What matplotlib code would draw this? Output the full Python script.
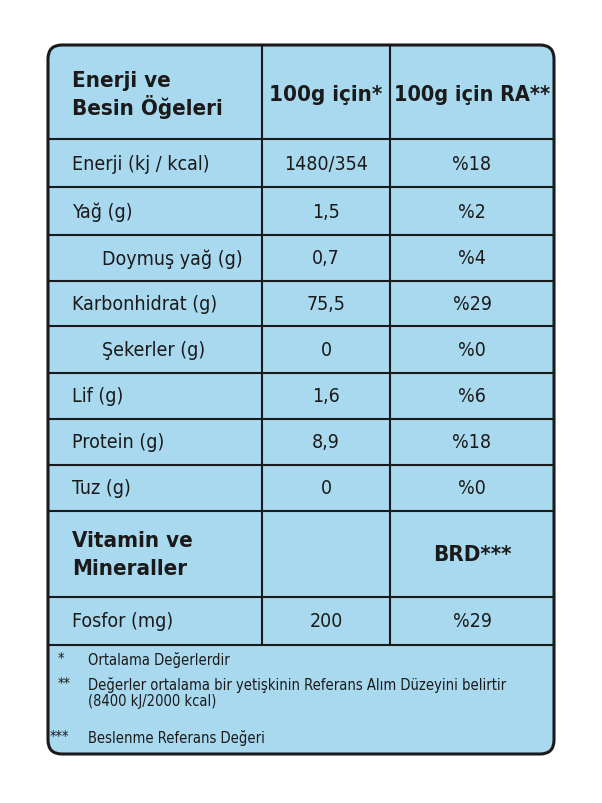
import matplotlib
matplotlib.use('Agg')
import matplotlib.pyplot as plt
from matplotlib.patches import FancyBboxPatch

# table content
rowLabels = ["Enerji (kj / kcal)", "Yağ (g)", "Doymuş yağ (g)", "Karbonhidrat (g)",
             "Şekerler (g)", "Lif (g)", "Protein (g)", "Tuz (g)"]
indented = [False, False, True, False, True, False, False, False]
per100 = ["1480/354", "1,5", "0,7", "75,5", "0", "1,6", "8,9", "0"]
raValues = ["%18", "%2", "%4", "%29", "%0", "%6", "%18", "%0"]
headers = ["Enerji ve\nBesin Öğeleri", "100g için*", "100g için RA**"]
mineralHeader = ["Vitamin ve\nMineraller", "", "BRD***"]
mineralLabels = ["Fosfor (mg)"]
mineralPer100 = ["200"]
mineralRa = ["%29"]
footMarks = ["*", "**", "***"]
footTexts = ["Ortalama Değerlerdir",
             "Değerler ortalama bir yetişkinin Referans Alım Düzeyini belirtir\n(8400 kJ/2000 kcal)",
             "Beslenme Referans Değeri"]

fig = plt.figure(figsize=(6.02, 8.04), dpi=100)
ax = fig.add_axes([0, 0, 1, 1])
ax.set_xlim(0, 602)
ax.set_ylim(804, 0)
ax.axis('off')

blue = '#a9d9ef'
ax.add_patch(FancyBboxPatch((48, 46), 506, 709, boxstyle="round,pad=0,rounding_size=14",
                            fc=blue, ec='#1a1a1a', lw=2.2))

font = dict(family='DejaVu Sans', fontstretch='condensed', color='#1a1a1a')
left, c1, c2, right = 48, 262, 390, 554
mid1, mid2 = (c1 + c2) / 2, (c2 + right) / 2

rowEdges = [140, 188, 236, 282, 327, 374, 420, 466, 512, 598, 646]
for y in rowEdges:
    ax.plot([left, right], [y, y], color='#1a1a1a', lw=1.5)
for x in (c1, c2):
    ax.plot([x, x], [46, 646], color='#1a1a1a', lw=1.5)

# header
ax.text(72, 95, headers[0], fontsize=16, fontweight='bold', va='center', linespacing=1.2, **font)
ax.text(mid1, 95, headers[1], fontsize=16, fontweight='bold', va='center', ha='center', **font)
ax.text(mid2, 95, headers[2], fontsize=15.5, fontweight='bold', va='center', ha='center', **font)

for i, (lab, ind, a, b) in enumerate(zip(rowLabels, indented, per100, raValues)):
    yc = (rowEdges[i] + rowEdges[i + 1]) / 2
    ax.text(102 if ind else 72, yc, lab, fontsize=14, va='center', **font)
    ax.text(mid1, yc, a, fontsize=14, va='center', ha='center', **font)
    ax.text(mid2, yc, b, fontsize=14, va='center', ha='center', **font)

yc = (rowEdges[8] + rowEdges[9]) / 2
ax.text(72, yc, mineralHeader[0], fontsize=16, fontweight='bold', va='center', linespacing=1.5, **font)
ax.text(mid2, yc, mineralHeader[2], fontsize=16, fontweight='bold', va='center', ha='center', **font)

for j, (lab, a, b) in enumerate(zip(mineralLabels, mineralPer100, mineralRa)):
    yc = (rowEdges[9 + j] + rowEdges[10 + j]) / 2
    ax.text(72, yc, lab, fontsize=14, va='center', **font)
    ax.text(mid1, yc, a, fontsize=14, va='center', ha='center', **font)
    ax.text(mid2, yc, b, fontsize=14, va='center', ha='center', **font)

# footnotes
footY = [660, 677, 738]
for mark, txt, y in zip(footMarks, footTexts, footY):
    va = 'top' if '\n' in txt else 'center'
    ax.text(58 if len(mark) < 3 else 50, y, mark, fontsize=10.5, va=va, **font)
    ax.text(88, y, txt, fontsize=10.5, va=va, linespacing=1.05, **font)

fig.savefig('out.png', dpi=100)
